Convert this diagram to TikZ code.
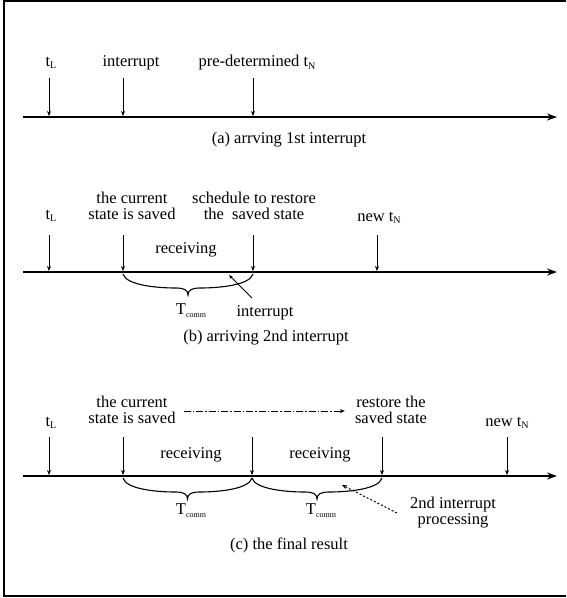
\documentclass[tikz,border=0pt]{standalone}
\usepackage{fontspec}
\setmainfont{Liberation Serif}
\usetikzlibrary{arrows.meta}
% subscripted symbols
\newcommand{\idx}[1]{\raisebox{-0.35ex}{\fontsize{10}{10}\selectfont #1}}
\newcommand{\Tcomm}{T\raisebox{-0.4ex}{\fontsize{8}{8}\selectfont comm}}
% curly brace hanging below the time axis: left x, right x, axis y
\newcommand{\tbrace}[3]{%
  \draw[bracepath] (#1,#3)
    .. controls +(3,11) and +(-20,0) .. ({(#1+#2)/2-12},{#3+14})
    .. controls +(8,0) and +(0,-5) .. ({(#1+#2)/2},{#3+21})
    .. controls +(0,-5) and +(-8,0) .. ({(#1+#2)/2+12},{#3+14})
    .. controls +(20,0) and +(-3,11) .. (#2,#3);}
\begin{document}
\begin{tikzpicture}[x=1pt,y=-1pt,
  lbl/.style={font=\fontsize{16.5}{16}\selectfont, inner sep=0pt, align=center},
  tick/.style={line width=1pt, -{Stealth[length=5pt,width=4pt]}},
  axis/.style={line width=2.2pt, -{Stealth[length=10pt,width=7pt]}},
  bracepath/.style={line width=1.1pt},
  frame/.style={line width=1.5pt}]
\useasboundingbox (0,0) rectangle (566,598);

% outer frame
\coordinate (f1) at (4,596);
\coordinate (f2) at (4,1);
\coordinate (f3) at (566,1);
\coordinate (f4) at (566,596);
\draw[frame] (f3) -- (f2) -- (f1) -- (f4);

% ---------- (a) arriving 1st interrupt ----------
\coordinate (a0) at (23,117);
\coordinate (a9) at (557,117);
\draw[axis] (a0) -- (a9);
\foreach \n/\x in {1/49,2/123,3/253}{
  \coordinate (atop\n) at (\x,78);
  \coordinate (abot\n) at (\x,116);
  \draw[tick] (atop\n) -- (abot\n);
}
\node[lbl] (atl) at (51,63) {t\idx{L}};
\node[lbl] (aint) at (131,63) {interrupt};
\node[lbl] (apre) at (257,63) {pre-determined t\idx{N}};
\node[lbl] (acap) at (289,140) {(a) arrving 1st interrupt};

% ---------- (b) arriving 2nd interrupt ----------
\coordinate (b0) at (23,272);
\coordinate (b9) at (557,272);
\draw[axis] (b0) -- (b9);
\foreach \n/\x in {1/49,2/123,3/253,4/377}{
  \coordinate (btop\n) at (\x,235);
  \coordinate (bbot\n) at (\x,271);
  \draw[tick] (btop\n) -- (bbot\n);
}
\node[lbl] (btl) at (51,216) {t\idx{L}};
\node[lbl] (bsave) at (132,206) {the current\\state is saved};
\node[lbl] (bsched) at (254,206) {schedule to restore\\the\ \ saved state};
\node[lbl] (bnew) at (379,218) {new t\idx{N}};
\node[lbl] (brecv) at (186,250) {receiving};
\tbrace{123}{253}{274}
\node[lbl] (bT) at (191,311) {\Tcomm};
\node[lbl] (bint) at (265,313) {interrupt};
\coordinate (bfrom) at (252,298);
\coordinate (bhit) at (229,275);
\draw[line width=1pt, -{Stealth[length=4pt,width=3pt]}] (bfrom) -- (bhit);
\node[lbl] (bcap) at (266,338) {(b) arriving 2nd interrupt};

% ---------- (c) the final result ----------
\coordinate (c0) at (23,476);
\coordinate (c9) at (557,476);
\draw[axis] (c0) -- (c9);
\foreach \n/\x in {1/49,2/123,3/252,4/382,5/507}{
  \coordinate (ctop\n) at (\x,437);
  \coordinate (cbot\n) at (\x,475);
  \draw[tick] (ctop\n) -- (cbot\n);
}
\node[lbl] (ctl) at (51,423) {t\idx{L}};
\node[lbl] (csave) at (132,410) {the current\\state is saved};
\node[lbl] (crest) at (391,410) {restore the\\saved state};
\node[lbl] (cnew) at (507,423) {new t\idx{N}};
\draw[line width=1pt, dash pattern=on 7pt off 2pt on 1.5pt off 2pt,
      -{Stealth[length=5pt,width=4pt]}]
  ([xshift=8pt,yshift=-1pt]csave.east) -- ([xshift=-10pt,yshift=-1pt]crest.west);
\node[lbl] (crecv1) at (191,455) {receiving};
\node[lbl] (crecv2) at (320,455) {receiving};
\tbrace{123}{252}{478}
\tbrace{252}{382}{478}
\node[lbl] (cT1) at (191,511) {\Tcomm};
\node[lbl] (cT2) at (321,511) {\Tcomm};
\node[lbl] (cproc) at (453,513) {2nd interrupt\\processing};
\coordinate (cfrom) at (397,513);
\coordinate (chit) at (342,485);
\draw[line width=1pt, dash pattern=on 2pt off 2pt,
      -{Stealth[length=5pt,width=4pt]}] (cfrom) -- (chit);
\node[lbl] (ccap) at (289,545) {(c) the final result};
\end{tikzpicture}
\end{document}
